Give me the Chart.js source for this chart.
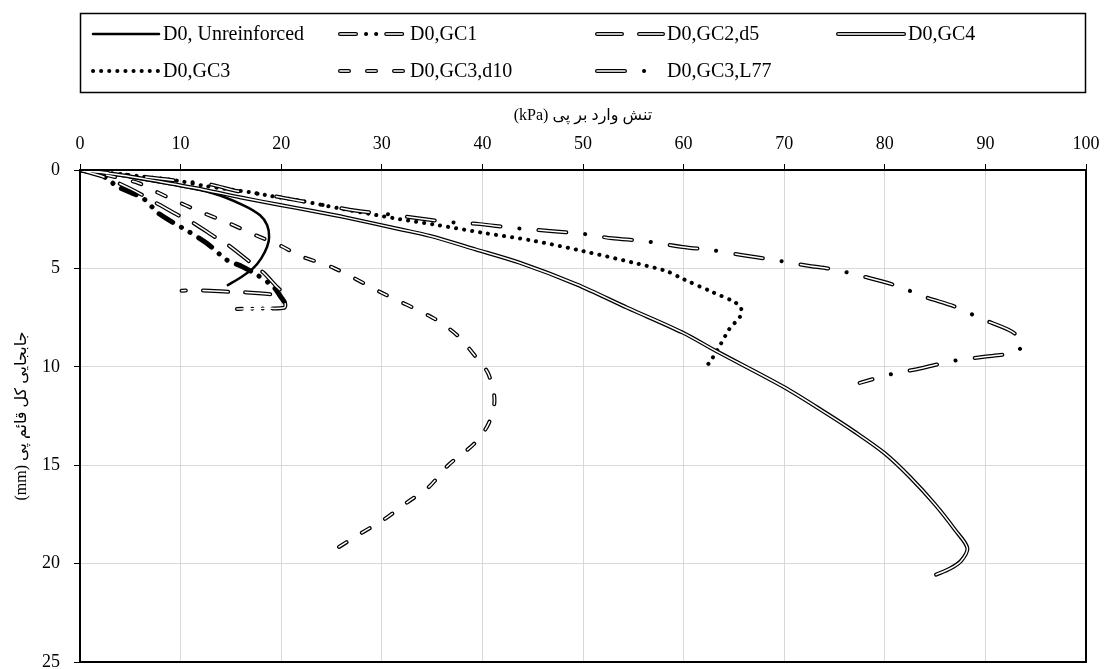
<!DOCTYPE html>
<html>
<head>
<meta charset="utf-8">
<script src="https://cdn.jsdelivr.net/npm/chart.js@4/dist/chart.umd.min.js"></script>
<style>
    html, body { margin: 0; padding: 0; background: #fff; }
    #wrap { width: 1105px; height: 669px; position: relative; }
</style>
</head>
<body>
<div id="wrap"><canvas id="settlement-chart"></canvas></div>
<script>
// legend names, in legend order (row 1 then row 2)
const seriesNames = ['D0, Unreinforced', 'D0,GC1', 'D0,GC2,d5', 'D0,GC4', 'D0,GC3', 'D0,GC3,d10', 'D0,GC3,L77'];

// applied stress (kPa) / settlement (mm)
const unreinforcedStress = [0, 2, 5, 9, 13.2, 16.2, 17.9, 18.6, 18.8, 18.6, 18.0, 17.2, 16.0, 14.7];
const unreinforcedSettle = [0, 0.13, 0.38, 0.73, 1.18, 1.78, 2.3, 2.8, 3.4, 3.9, 4.5, 5.0, 5.45, 5.85];

const gc1Stress = [0, 1.5, 2.8, 3.6, 6.3, 7.8, 10.8, 12.6, 14.6, 16.1, 17.6, 19.2, 19.9, 20.4, 20.3, 18.5, 15.6];
const gc1Settle = [0, 0.15, 0.46, 0.81, 1.45, 2.2, 3.13, 3.72, 4.57, 4.9, 5.33, 5.92, 6.4, 6.8, 7.0, 7.03, 7.06];

const gc2d5Stress = [0, 2.3, 5, 7.6, 10, 11.3, 13.6, 14.7, 16.7, 18.2, 19.4, 20.1, 19.5, 16.6, 15.1, 12.1, 10.1];
const gc2d5Settle = [0, 0.34, 0.95, 1.68, 2.37, 2.7, 3.47, 3.8, 4.6, 5.2, 5.85, 6.25, 6.32, 6.22, 6.2, 6.12, 6.13];

const gc4Stress = [0, 4, 8, 12.3, 16, 19.9, 23, 26.5, 31.8, 34.8, 39.3, 43.7, 49.4, 54.4, 59.9, 63.2, 70, 74, 77, 80, 82.5, 85, 87, 88.2, 87.6, 86.5, 85.1];
const gc4Settle = [0, 0.25, 0.6, 1.0, 1.4, 1.78, 2.07, 2.42, 3.01, 3.35, 4.03, 4.71, 5.82, 7.0, 8.26, 9.19, 11.04, 12.3, 13.3, 14.4, 15.6, 17.0, 18.3, 19.2, 19.85, 20.25, 20.56];

const gc3Stress = [0, 3, 6, 9.9, 12.3, 16.9, 19, 21.9, 25.9, 31.8, 35.1, 39.9, 45.1, 50, 55, 58.3, 60, 62.9, 65.1, 65.7, 65.7, 65.2, 64.6, 64.2, 63.4, 62.6, 62.1];
const gc3Settle = [0, 0.15, 0.32, 0.56, 0.8, 1.13, 1.32, 1.56, 1.96, 2.5, 2.76, 3.18, 3.6, 4.12, 4.71, 5.14, 5.55, 6.21, 6.72, 7.01, 7.37, 7.7, 8.04, 8.38, 9.11, 9.76, 10.05];

const gc3d10Stress = [0, 3, 5.8, 7, 9, 12.1, 14.7, 17.4, 20, 21.9, 25.2, 30, 35.1, 37.5, 39.4, 40.6, 41.2, 40.6, 39.2, 36.6, 34.7, 32.5, 30.1, 27.8, 25.7];
const gc3d10Settle = [0, 0.3, 0.66, 0.96, 1.45, 2.15, 2.68, 3.3, 3.86, 4.37, 4.97, 6.24, 7.52, 8.4, 9.53, 10.37, 11.7, 12.9, 13.9, 15, 16.1, 16.9, 17.8, 18.5, 19.17];

const gc3L77Stress = [0, 4, 8, 12.9, 15.6, 18.6, 21.9, 27.5, 30.5, 33.6, 36.6, 39.7, 42.8, 46.7, 49.8, 52.9, 55.9, 59.9, 62.9, 65.9, 68.9, 72.2, 75.1, 78.1, 81.1, 84.1, 86.9, 89.7, 92.6, 93.7, 93.4, 92.4, 89.7, 86.8, 83.5, 80.5, 77.5];
const gc3L77Settle = [0, 0.2, 0.45, 0.73, 1.07, 1.27, 1.57, 2.07, 2.24, 2.45, 2.64, 2.75, 2.93, 3.1, 3.23, 3.47, 3.6, 3.91, 4.08, 4.33, 4.56, 4.85, 5.07, 5.44, 5.87, 6.47, 6.93, 7.58, 8.2, 8.77, 9.11, 9.33, 9.5, 9.7, 10.09, 10.39, 10.82];

const xTicks = [0, 10, 20, 30, 40, 50, 60, 70, 80, 90, 100];
const yTicks = [0, 5, 10, 15, 20, 25];

const xTitle = '\u202Bتنش وارد بر پی (kPa)\u202C';
const yTitle = '\u202Bجابجایی کل قائم پی (mm)\u202C';

// line looks (excel style: double lines = black outline + white core)
const lineStyles = {
    solid:    { width: 2.5, dash: [] },
    dotted:   { width: 4, dash: [0.1, 8] },
    double:   { width: 4, dash: [], inner: 1.5, innerDash: [] },
    longDash: { width: 4, dash: [25, 17], inner: 1.5, innerDash: [25, 17] },
    dash:     { width: 4, dash: [9, 18], inner: 1.5, innerDash: [9, 18] },
    ldDot:    { width: 4, dash: [28, 19, 0.1, 19], inner: 1.5, innerDash: [28, 38.1] },
    ldDotDot: { width: 4, dash: [16, 10, 0.1, 10, 0.1, 10], inner: 1.5, innerDash: [16, 30.2] },
};

const serif = "'Liberation Serif', 'Times New Roman', 'DejaVu Sans', serif";

function toPoints(xs, ys) {
    return xs.map((x, i) => ({ x: x, y: ys[i] }));
}

function makeDatasets(name, xs, ys, st, innerSegment, outerSegment) {
    var pts = toPoints(xs, ys);
    var base = {
        pointRadius: 0,
        tension: 0.3,
        fill: false,
        borderCapStyle: 'round',
        borderJoinStyle: 'round',
    };
    var outer = Object.assign({}, base, {
        label: name,
        data: pts,
        borderColor: '#000',
        borderWidth: st.width,
        borderDash: st.dash,
        order: 2,
    });
    if (outerSegment) {
        outer.segment = outerSegment;
    }
    var sets = [outer];
    if (st.inner) {
        var inner = Object.assign({}, base, {
            label: name + ' core',
            data: pts,
            borderColor: '#fff',
            borderWidth: st.inner,
            borderDash: st.innerDash,
            order: 1,
        });
        if (innerSegment) {
            inner.segment = innerSegment;
            inner.borderDash = [];
        }
        sets.push(inner);
    }
    return sets;
}

// the descending branch of GC1 is so dense it prints solid black
var gc1Turn = gc1Stress.indexOf(Math.max.apply(null, gc1Stress));

var datasets = [].concat(
    makeDatasets(seriesNames[0], unreinforcedStress, unreinforcedSettle, lineStyles.solid),
    makeDatasets(seriesNames[1], gc1Stress, gc1Settle, lineStyles.ldDotDot, {
        borderColor: (ctx) => (ctx.p0DataIndex >= gc1Turn ? '#fff' : 'rgba(0,0,0,0)'),
    }, {
        borderWidth: (ctx) => (ctx.p0DataIndex >= gc1Turn ? 4 : 5),
    }),
    makeDatasets(seriesNames[2], gc2d5Stress, gc2d5Settle, lineStyles.longDash),
    makeDatasets(seriesNames[3], gc4Stress, gc4Settle, lineStyles.double),
    makeDatasets(seriesNames[4], gc3Stress, gc3Settle, lineStyles.dotted),
    makeDatasets(seriesNames[5], gc3d10Stress, gc3d10Settle, lineStyles.dash),
    makeDatasets(seriesNames[6], gc3L77Stress, gc3L77Settle, lineStyles.ldDot)
);

var legendLooks = [lineStyles.solid, lineStyles.ldDotDot, lineStyles.longDash, lineStyles.double,
    lineStyles.dotted, lineStyles.dash, lineStyles.ldDot];

function strokeSample(ctx, st, x1, x2, y) {
    ctx.lineCap = 'round';
    ctx.strokeStyle = '#000';
    ctx.lineWidth = st.width;
    ctx.setLineDash(st.dash);
    ctx.beginPath();
    ctx.moveTo(x1, y);
    ctx.lineTo(x2, y);
    ctx.stroke();
    if (st.inner) {
        ctx.strokeStyle = '#fff';
        ctx.lineWidth = st.inner;
        ctx.setLineDash(st.innerDash);
        ctx.beginPath();
        ctx.moveTo(x1, y);
        ctx.lineTo(x2, y);
        ctx.stroke();
    }
    ctx.setLineDash([]);
}

const frameAndLegend = {
    id: 'frameAndLegend',
    afterDraw(chart) {
        var ctx = chart.ctx;
        var a = chart.chartArea;
        ctx.save();
        ctx.strokeStyle = '#000';
        ctx.lineWidth = 2;
        ctx.strokeRect(a.left, a.top, a.right - a.left, a.bottom - a.top);

        // legend box
        ctx.lineWidth = 1.5;
        ctx.strokeRect(80.5, 13.5, 1005, 79);

        var cols = [93, 340, 597, 838];
        var rows = [34, 71];
        ctx.font = '20px ' + serif;
        ctx.fillStyle = '#000';
        ctx.textBaseline = 'middle';
        ctx.textAlign = 'left';
        seriesNames.forEach(function (name, i) {
            var r = i < 4 ? 0 : 1;
            var c = i < 4 ? i : i - 4;
            var x = cols[c];
            var y = rows[r];
            strokeSample(ctx, legendLooks[i], x, x + 66, y);
            ctx.fillText(name, x + 70, y + 1);
        });
        ctx.restore();
    },
};

var chart = new Chart(document.getElementById('settlement-chart'), {
    type: 'line',
    data: { datasets: datasets },
    options: {
        responsive: true,
        maintainAspectRatio: false,
        animation: false,
        events: [],
        layout: { padding: { top: 100, right: 19, bottom: 7, left: 0 } },
        scales: {
            x: {
                type: 'linear',
                position: 'top',
                min: 0,
                max: 100,
                afterBuildTicks: (s) => { s.ticks = xTicks.map((v) => ({ value: v })); },
                afterFit: (s) => { s.height = 70; s.paddingLeft = 0; s.paddingRight = 0; },
                ticks: { color: '#000', font: { family: serif, size: 18 }, padding: 9, maxRotation: 0 },
                grid: { color: '#d9d9d9', lineWidth: 1, tickColor: '#000', tickLength: 6 },
                border: { display: false },
                title: {
                    display: true,
                    text: xTitle,
                    color: '#000',
                    font: { family: serif, size: 16 },
                    padding: { top: 6, bottom: 0 },
                },
            },
            y: {
                type: 'linear',
                reverse: true,
                min: 0,
                max: 25,
                afterBuildTicks: (s) => { s.ticks = yTicks.map((v) => ({ value: v })); },
                afterFit: (s) => { s.width = 80; s.paddingTop = 0; s.paddingBottom = 0; },
                ticks: { color: '#000', font: { family: serif, size: 18 }, padding: 14 },
                grid: { color: '#d9d9d9', lineWidth: 1, tickColor: '#000', tickLength: 6 },
                border: { display: false },
                title: {
                    display: true,
                    text: yTitle,
                    color: '#000',
                    font: { family: serif, size: 16 },
                    padding: { top: 12, bottom: 0 },
                },
            },
        },
        plugins: {
            legend: { display: false },
            tooltip: { enabled: false },
        },
    },
    plugins: [frameAndLegend],
});
</script>
</body>
</html>
